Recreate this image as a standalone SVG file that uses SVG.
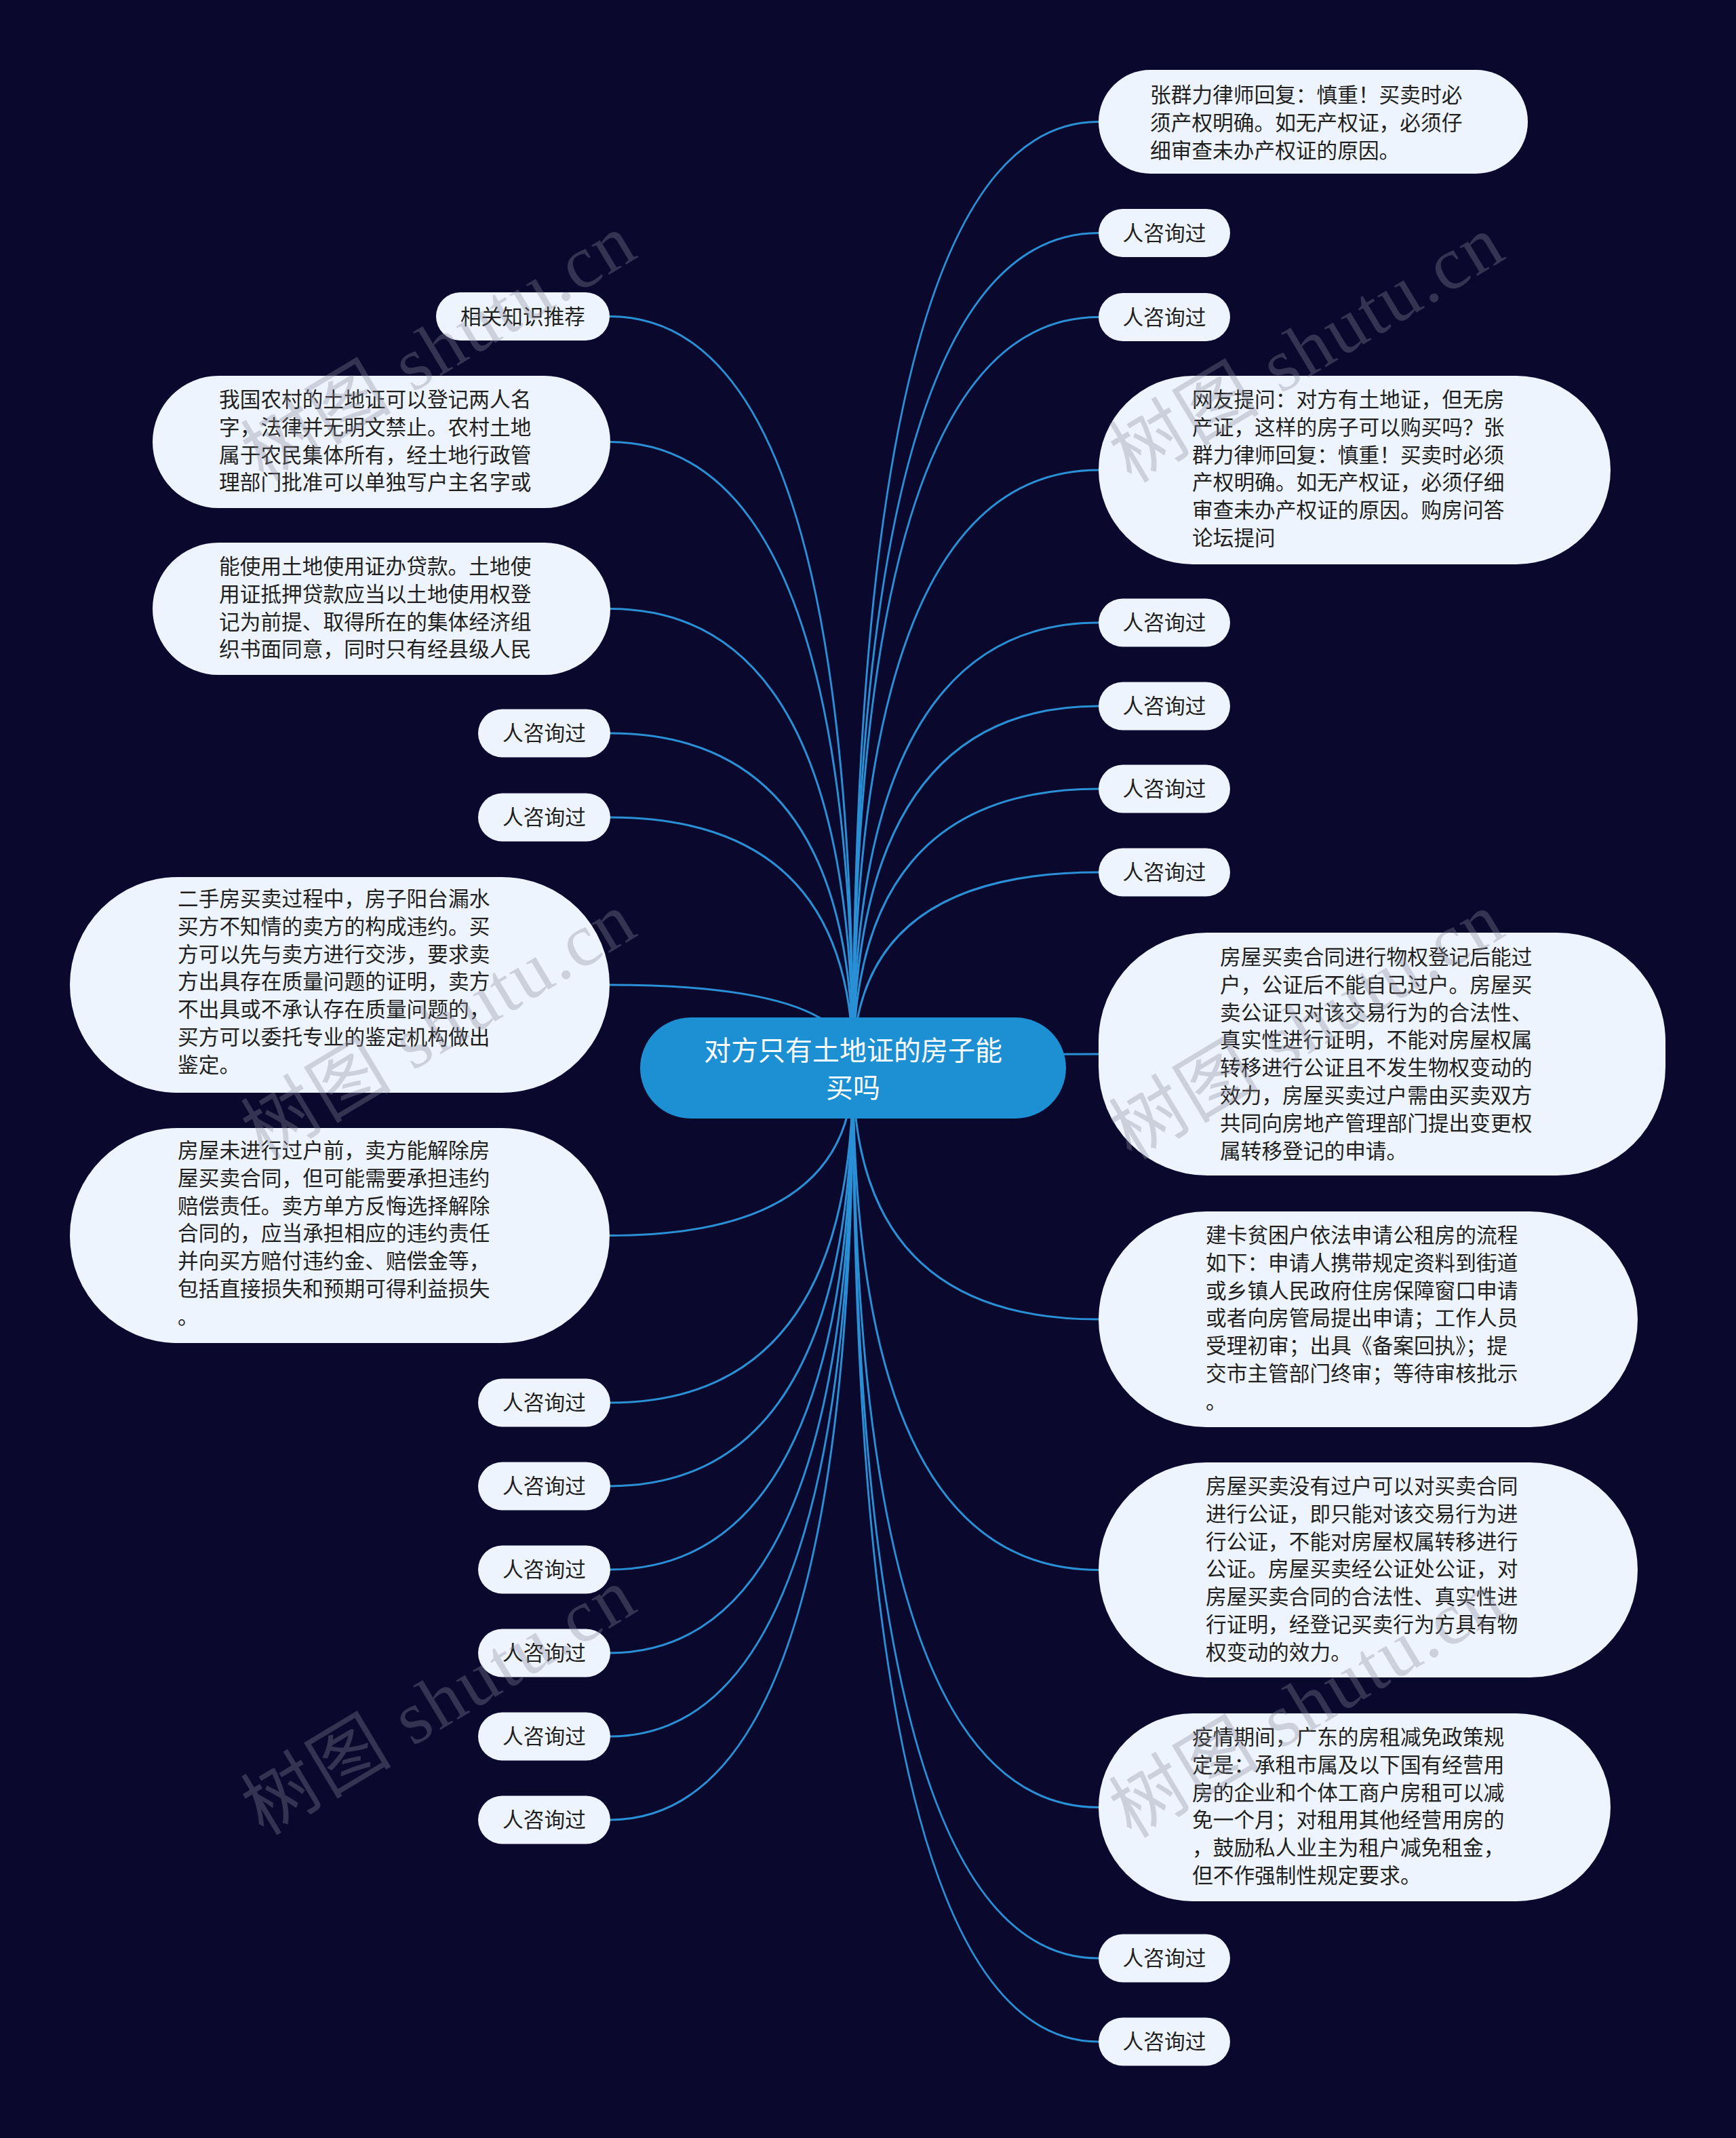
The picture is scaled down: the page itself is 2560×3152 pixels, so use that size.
<svg xmlns="http://www.w3.org/2000/svg" width="2560" height="3152" viewBox="0 0 2560 3152">
<defs>
<style>
.bg{fill:#0a082d}
.box{fill:#eef4fd}
.root{fill:#1d8fd3}
.t{font-family:"Noto Sans CJK SC","Noto Sans",sans-serif;font-size:30.7px;fill:#1f1f1f}
.pt{font-family:"Noto Sans CJK SC","Noto Sans",sans-serif;font-size:30.7px;fill:#1f1f1f;text-anchor:middle}
.ct{font-family:"Noto Sans CJK SC","Noto Sans",sans-serif;font-size:40px;fill:#ffffff;text-anchor:middle}
.link{fill:none;stroke:#2a90d6;stroke-width:3}
.wm{font-family:"Liberation Serif","Noto Sans CJK SC",serif;font-size:110px;fill:#8a8a9a;opacity:0.33;text-anchor:middle;dominant-baseline:central;letter-spacing:3px}
</style>
</defs>
<rect class="bg" x="0" y="0" width="2560" height="3152"/>
<g id="connectors">
<path class="link" d="M1258 1574 Q1258 179.5 1620 179.5"/>
<path class="link" d="M1258 1574 Q1258 343.5 1620 343.5"/>
<path class="link" d="M1258 1574 Q1258 467.5 1620 467.5"/>
<path class="link" d="M1258 1574 Q1258 693 1620 693"/>
<path class="link" d="M1258 1574 Q1258 918 1620 918"/>
<path class="link" d="M1258 1574 Q1258 1041 1620 1041"/>
<path class="link" d="M1258 1574 Q1258 1163 1620 1163"/>
<path class="link" d="M1258 1574 Q1258 1286 1620 1286"/>
<path class="link" d="M1258 1574 Q1258 1554 1620 1554"/>
<path class="link" d="M1258 1574 Q1258 1945 1620 1945"/>
<path class="link" d="M1258 1574 Q1258 2314.5 1620 2314.5"/>
<path class="link" d="M1258 1574 Q1258 2664.5 1620 2664.5"/>
<path class="link" d="M1258 1574 Q1258 2887 1620 2887"/>
<path class="link" d="M1258 1574 Q1258 3010 1620 3010"/>
<path class="link" d="M1258 1574 Q1258 466.5 899 466.5"/>
<path class="link" d="M1258 1574 Q1258 651.5 899 651.5"/>
<path class="link" d="M1258 1574 Q1258 897.5 899 897.5"/>
<path class="link" d="M1258 1574 Q1258 1081 899 1081"/>
<path class="link" d="M1258 1574 Q1258 1205 899 1205"/>
<path class="link" d="M1258 1574 Q1258 1452 899 1452"/>
<path class="link" d="M1258 1574 Q1258 1821.5 899 1821.5"/>
<path class="link" d="M1258 1574 Q1258 2068 899 2068"/>
<path class="link" d="M1258 1574 Q1258 2191 899 2191"/>
<path class="link" d="M1258 1574 Q1258 2314 899 2314"/>
<path class="link" d="M1258 1574 Q1258 2437 899 2437"/>
<path class="link" d="M1258 1574 Q1258 2560 899 2560"/>
<path class="link" d="M1258 1574 Q1258 2683 899 2683"/>
</g>
<g id="root">
<rect class="root" x="944" y="1500" width="628" height="149" rx="74.5"/>
<text class="ct"><tspan x="1258" y="1563">对方只有土地证的房子能</tspan><tspan x="1258" y="1618">买吗</tspan></text>
</g>
<g id="r1">
<rect class="box" x="1620" y="103" width="633" height="153" rx="76.5"/>
<text class="t"><tspan x="1696" y="151">张群力律师回复：慎重！买卖时必</tspan><tspan x="1696" y="191.8">须产权明确。如无产权证，必须仔</tspan><tspan x="1696" y="232.6">细审查未办产权证的原因。</tspan></text>
</g>
<g id="pr1"><rect class="box" x="1620" y="308" width="194" height="71" rx="35.5"/><text class="pt" x="1717" y="354.5">人咨询过</text></g>
<g id="pr2"><rect class="box" x="1620" y="432" width="194" height="71" rx="35.5"/><text class="pt" x="1717" y="478.5">人咨询过</text></g>
<g id="r2">
<rect class="box" x="1620" y="554" width="755" height="278" rx="139"/>
<text class="t"><tspan x="1758" y="600">网友提问：对方有土地证，但无房</tspan><tspan x="1758" y="640.8">产证，这样的房子可以购买吗？张</tspan><tspan x="1758" y="681.6">群力律师回复：慎重！买卖时必须</tspan><tspan x="1758" y="722.4">产权明确。如无产权证，必须仔细</tspan><tspan x="1758" y="763.2">审查未办产权证的原因。购房问答</tspan><tspan x="1758" y="804">论坛提问</tspan></text>
</g>
<g id="pr3"><rect class="box" x="1620" y="882.5" width="194" height="71" rx="35.5"/><text class="pt" x="1717" y="929">人咨询过</text></g>
<g id="pr4"><rect class="box" x="1620" y="1005.5" width="194" height="71" rx="35.5"/><text class="pt" x="1717" y="1052">人咨询过</text></g>
<g id="pr5"><rect class="box" x="1620" y="1127.5" width="194" height="71" rx="35.5"/><text class="pt" x="1717" y="1174">人咨询过</text></g>
<g id="pr6"><rect class="box" x="1620" y="1250.5" width="194" height="71" rx="35.5"/><text class="pt" x="1717" y="1297">人咨询过</text></g>
<g id="r3">
<rect class="box" x="1620" y="1375" width="836" height="358" rx="160"/>
<text class="t"><tspan x="1799" y="1422">房屋买卖合同进行物权登记后能过</tspan><tspan x="1799" y="1462.8">户，公证后不能自己过户。房屋买</tspan><tspan x="1799" y="1503.6">卖公证只对该交易行为的合法性、</tspan><tspan x="1799" y="1544.4">真实性进行证明，不能对房屋权属</tspan><tspan x="1799" y="1585.2">转移进行公证且不发生物权变动的</tspan><tspan x="1799" y="1626">效力，房屋买卖过户需由买卖双方</tspan><tspan x="1799" y="1666.8">共同向房地产管理部门提出变更权</tspan><tspan x="1799" y="1707.6">属转移登记的申请。</tspan></text>
</g>
<g id="r4">
<rect class="box" x="1620" y="1786" width="795" height="318" rx="159"/>
<text class="t"><tspan x="1778" y="1832">建卡贫困户依法申请公租房的流程</tspan><tspan x="1778" y="1872.8">如下：申请人携带规定资料到街道</tspan><tspan x="1778" y="1913.6">或乡镇人民政府住房保障窗口申请</tspan><tspan x="1778" y="1954.4">或者向房管局提出申请；工作人员</tspan><tspan x="1778" y="1995.2">受理初审；出具《备案回执》；提</tspan><tspan x="1778" y="2036">交市主管部门终审；等待审核批示</tspan><tspan x="1778" y="2076.8">。</tspan></text>
</g>
<g id="r5">
<rect class="box" x="1620" y="2156" width="795" height="317" rx="158.5"/>
<text class="t"><tspan x="1778" y="2202">房屋买卖没有过户可以对买卖合同</tspan><tspan x="1778" y="2242.8">进行公证，即只能对该交易行为进</tspan><tspan x="1778" y="2283.6">行公证，不能对房屋权属转移进行</tspan><tspan x="1778" y="2324.4">公证。房屋买卖经公证处公证，对</tspan><tspan x="1778" y="2365.2">房屋买卖合同的合法性、真实性进</tspan><tspan x="1778" y="2406">行证明，经登记买卖行为方具有物</tspan><tspan x="1778" y="2446.8">权变动的效力。</tspan></text>
</g>
<g id="r6">
<rect class="box" x="1620" y="2526" width="755" height="277" rx="138.5"/>
<text class="t"><tspan x="1758" y="2572">疫情期间，广东的房租减免政策规</tspan><tspan x="1758" y="2612.8">定是：承租市属及以下国有经营用</tspan><tspan x="1758" y="2653.6">房的企业和个体工商户房租可以减</tspan><tspan x="1758" y="2694.4">免一个月；对租用其他经营用房的</tspan><tspan x="1758" y="2735.2">，鼓励私人业主为租户减免租金，</tspan><tspan x="1758" y="2776">但不作强制性规定要求。</tspan></text>
</g>
<g id="pr7"><rect class="box" x="1620" y="2851.5" width="194" height="71" rx="35.5"/><text class="pt" x="1717" y="2898">人咨询过</text></g>
<g id="pr8"><rect class="box" x="1620" y="2974.5" width="194" height="71" rx="35.5"/><text class="pt" x="1717" y="3021">人咨询过</text></g>
<g id="rel"><rect class="box" x="643" y="431" width="256" height="71" rx="35.5"/><text class="pt" x="771" y="477.5">相关知识推荐</text></g>
<g id="la">
<rect class="box" x="225" y="554" width="675" height="195" rx="97.5"/>
<text class="t"><tspan x="323" y="600">我国农村的土地证可以登记两人名</tspan><tspan x="323" y="640.8">字，法律并无明文禁止。农村土地</tspan><tspan x="323" y="681.6">属于农民集体所有，经土地行政管</tspan><tspan x="323" y="722.4">理部门批准可以单独写户主名字或</tspan></text>
</g>
<g id="lb">
<rect class="box" x="225" y="800" width="675" height="195" rx="97.5"/>
<text class="t"><tspan x="323" y="846">能使用土地使用证办贷款。土地使</tspan><tspan x="323" y="886.8">用证抵押贷款应当以土地使用权登</tspan><tspan x="323" y="927.6">记为前提、取得所在的集体经济组</tspan><tspan x="323" y="968.4">织书面同意，同时只有经县级人民</tspan></text>
</g>
<g id="pl1"><rect class="box" x="705" y="1045.5" width="195" height="71" rx="35.5"/><text class="pt" x="802.5" y="1092">人咨询过</text></g>
<g id="pl2"><rect class="box" x="705" y="1169.5" width="195" height="71" rx="35.5"/><text class="pt" x="802.5" y="1216">人咨询过</text></g>
<g id="lc">
<rect class="box" x="103" y="1293" width="796" height="318" rx="159"/>
<text class="t"><tspan x="262" y="1336">二手房买卖过程中，房子阳台漏水</tspan><tspan x="262" y="1376.8">买方不知情的卖方的构成违约。买</tspan><tspan x="262" y="1417.6">方可以先与卖方进行交涉，要求卖</tspan><tspan x="262" y="1458.4">方出具存在质量问题的证明，卖方</tspan><tspan x="262" y="1499.2">不出具或不承认存在质量问题的，</tspan><tspan x="262" y="1540">买方可以委托专业的鉴定机构做出</tspan><tspan x="262" y="1580.8">鉴定。</tspan></text>
</g>
<g id="ld">
<rect class="box" x="103" y="1663" width="796" height="317" rx="158.5"/>
<text class="t"><tspan x="262" y="1707">房屋未进行过户前，卖方能解除房</tspan><tspan x="262" y="1747.8">屋买卖合同，但可能需要承担违约</tspan><tspan x="262" y="1788.6">赔偿责任。卖方单方反悔选择解除</tspan><tspan x="262" y="1829.4">合同的，应当承担相应的违约责任</tspan><tspan x="262" y="1870.2">并向买方赔付违约金、赔偿金等，</tspan><tspan x="262" y="1911">包括直接损失和预期可得利益损失</tspan><tspan x="262" y="1951.8">。</tspan></text>
</g>
<g id="pl3"><rect class="box" x="705" y="2032.5" width="195" height="71" rx="35.5"/><text class="pt" x="802.5" y="2079">人咨询过</text></g>
<g id="pl4"><rect class="box" x="705" y="2155.5" width="195" height="71" rx="35.5"/><text class="pt" x="802.5" y="2202">人咨询过</text></g>
<g id="pl5"><rect class="box" x="705" y="2278.5" width="195" height="71" rx="35.5"/><text class="pt" x="802.5" y="2325">人咨询过</text></g>
<g id="pl6"><rect class="box" x="705" y="2401.5" width="195" height="71" rx="35.5"/><text class="pt" x="802.5" y="2448">人咨询过</text></g>
<g id="pl7"><rect class="box" x="705" y="2524.5" width="195" height="71" rx="35.5"/><text class="pt" x="802.5" y="2571">人咨询过</text></g>
<g id="pl8"><rect class="box" x="705" y="2647.5" width="195" height="71" rx="35.5"/><text class="pt" x="802.5" y="2694">人咨询过</text></g>
<g id="watermarks">
<text class="wm" x="648" y="512" transform="rotate(-31 648 512)">树图 shutu.cn</text>
<text class="wm" x="1928" y="514" transform="rotate(-31 1928 514)">树图 shutu.cn</text>
<text class="wm" x="648" y="1512" transform="rotate(-31 648 1512)">树图 shutu.cn</text>
<text class="wm" x="1928" y="1512" transform="rotate(-31 1928 1512)">树图 shutu.cn</text>
<text class="wm" x="648" y="2508" transform="rotate(-31 648 2508)">树图 shutu.cn</text>
<text class="wm" x="1928" y="2512" transform="rotate(-31 1928 2512)">树图 shutu.cn</text>
</g>
</svg>
